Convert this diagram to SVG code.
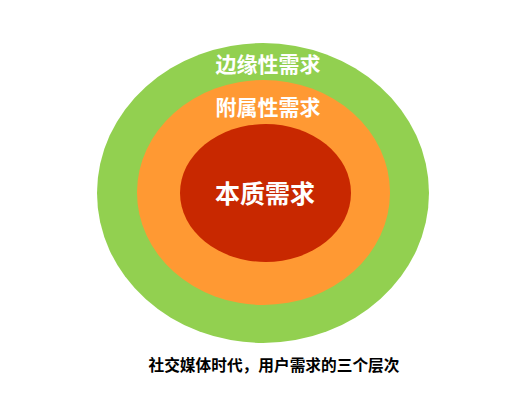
<svg xmlns="http://www.w3.org/2000/svg" width="526" height="400" viewBox="0 0 526 400">
<style>
.lbl{font-family:"Noto Sans CJK SC","Liberation Sans",sans-serif;font-weight:bold;fill:#fff;text-anchor:middle}
.cap{font-family:"Noto Sans CJK SC","Liberation Sans",sans-serif;font-weight:bold;fill:#000;text-anchor:middle;font-size:15.7px}
</style>
<rect width="526" height="400" fill="#fff"/>
<g id="outer">
<ellipse cx="263" cy="193" rx="166" ry="150" fill="#92D050"/>
<text class="lbl" x="268" y="72" font-size="21">边缘性需求</text>
</g>
<g id="middle">
<ellipse cx="263.5" cy="192.5" rx="126.5" ry="112.5" fill="#FF9933"/>
<text class="lbl" x="268" y="115" font-size="21">附属性需求</text>
</g>
<g id="inner">
<ellipse cx="265.5" cy="193" rx="85.5" ry="69" fill="#C82800"/>
<text class="lbl" x="265" y="203" font-size="25">本质需求</text>
</g>
<g id="connectors"></g>
<text class="cap" x="274" y="371">社交媒体时代，用户需求的三个层次</text>
</svg>
